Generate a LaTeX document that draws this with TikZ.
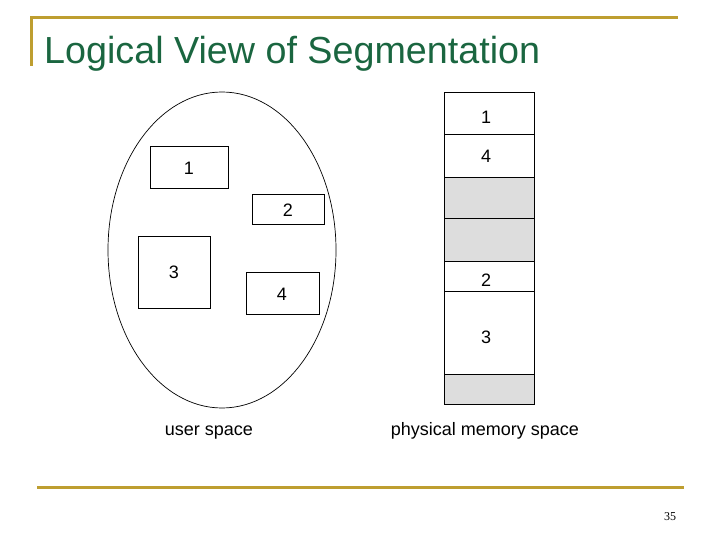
\documentclass[tikz,border=0pt]{standalone}
\usepackage{fontspec}
\setmainfont{Liberation Sans}
\newfontfamily\serifnum{Liberation Serif}
\definecolor{goldline}{RGB}{190,158,48}
\definecolor{titlegreen}{RGB}{26,102,64}
\definecolor{segfill}{RGB}{221,221,221}
\begin{document}
\begin{tikzpicture}[x=1pt,y=-1pt,
  segbox/.style={draw=black,line width=0.8pt},
  digit/.style={font=\fontsize{18}{20}\selectfont,inner sep=0pt},
  lbl/.style={font=\fontsize{18}{20}\selectfont,inner sep=0pt,anchor=base},
  rule/.style={draw=goldline,line width=3pt}]
\useasboundingbox (0,0) rectangle (720,540);
% gold rules
\coordinate (tl) at (31,66);
\coordinate (tc) at (31,18);
\coordinate (tr) at (678,18);
\draw[rule] (tl) -- (tc) -- (tr);
\coordinate (bl) at (37,487);
\coordinate (br) at (684,487);
\draw[rule] (bl) -- (br);
% title
\node[anchor=base west,inner sep=0pt,text=titlegreen,font=\fontsize{37.7}{40}\selectfont] (title) at (44,64) {Logical View of Segmentation};
% user space ellipse
\draw[line width=0.7pt] (222,250) ellipse [x radius=114, y radius=158];
\draw[segbox] (150,146) rectangle (228,188);
\node[digit] (u1) at (189,168) {1};
\draw[segbox] (252,194) rectangle (324,224);
\node[digit] (u2) at (288,210) {2};
\draw[segbox] (138,236) rectangle (210,308);
\node[digit] (u3) at (174,272) {3};
\draw[segbox] (246,272) rectangle (319,314);
\node[digit] (u4) at (282,294) {4};
% physical memory
\fill[segfill] (444,177) rectangle (534,261);
\fill[segfill] (444,374) rectangle (534,404);
\draw[segbox] (444,92) rectangle (534,404);
\foreach \yy in {134,177,218,261,291,374} \draw[segbox] (444,\yy) -- (534,\yy);
\node[digit] (m1) at (486,117) {1};
\node[digit] (m4) at (486,156) {4};
\node[digit] (m2) at (486,280) {2};
\node[digit] (m3) at (486,337) {3};
% labels
\node[lbl] (ulabel) at (209,435) {user space};
\node[lbl] (plabel) at (485,435) {physical memory space};
\node[anchor=base,inner sep=0pt,font=\serifnum\fontsize{12}{14}\selectfont] (page) at (670,520) {35};
\end{tikzpicture}
\end{document}
